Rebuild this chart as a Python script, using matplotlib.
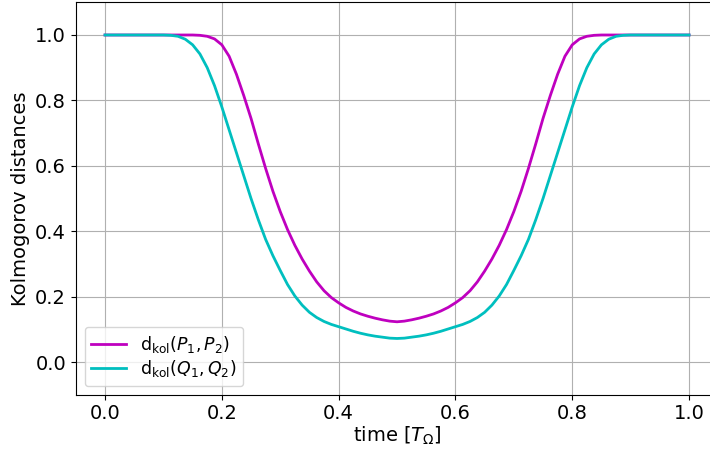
import numpy as np
import matplotlib
matplotlib.use("Agg")
import matplotlib.pyplot as plt

# values (time in units of T_Omega)
t = [0.0, 0.05, 0.1, 0.1125, 0.125, 0.1375, 0.15, 0.1625, 0.175, 0.1875,
     0.2, 0.2125, 0.225, 0.2375, 0.25, 0.2625, 0.275, 0.2875, 0.3, 0.3125,
     0.325, 0.3375, 0.35, 0.3625, 0.375, 0.3875, 0.4, 0.4125, 0.425, 0.4375,
     0.45, 0.4625, 0.475, 0.4875, 0.5,
     0.5125, 0.525, 0.5375, 0.55, 0.5625, 0.575, 0.5875, 0.6, 0.6125, 0.625,
     0.6375, 0.65, 0.6625, 0.675, 0.6875, 0.7, 0.7125, 0.725, 0.7375, 0.75,
     0.7625, 0.775, 0.7875, 0.8, 0.8125, 0.825, 0.8375, 0.85, 0.8625, 0.875,
     0.8875, 0.9, 0.95, 1.0]

d_p = [1.0, 1.0, 1.0, 1.0, 1.0, 1.0, 1.0, 0.999, 0.996, 0.988,
       0.97, 0.935, 0.88, 0.815, 0.745, 0.667, 0.592, 0.522, 0.46, 0.405,
       0.357, 0.315, 0.278, 0.245, 0.218, 0.197, 0.181, 0.167, 0.156, 0.147,
       0.14, 0.134, 0.129, 0.125, 0.123,
       0.125, 0.129, 0.134, 0.14, 0.147, 0.156, 0.167, 0.181, 0.197, 0.218,
       0.245, 0.278, 0.315, 0.357, 0.405, 0.46, 0.522, 0.592, 0.667, 0.745,
       0.815, 0.88, 0.935, 0.97, 0.988, 0.996, 0.999, 1.0, 1.0, 1.0,
       1.0, 1.0, 1.0, 1.0]

d_q = [1.0, 1.0, 1.0, 0.999, 0.996, 0.987, 0.97, 0.942, 0.9, 0.845,
       0.78, 0.71, 0.64, 0.57, 0.5, 0.435, 0.375, 0.325, 0.28, 0.237,
       0.202, 0.174, 0.152, 0.136, 0.124, 0.115, 0.108, 0.101, 0.094, 0.088,
       0.083, 0.079, 0.076, 0.073, 0.072,
       0.073, 0.076, 0.079, 0.083, 0.088, 0.094, 0.101, 0.108, 0.115, 0.124,
       0.136, 0.152, 0.174, 0.202, 0.237, 0.28, 0.325, 0.375, 0.435, 0.5,
       0.57, 0.64, 0.71, 0.78, 0.845, 0.9, 0.942, 0.97, 0.987, 0.996,
       0.999, 1.0, 1.0, 1.0]

labels = [r'$\mathrm{d}_{\mathrm{kol}}(P_1, P_2)$',
          r'$\mathrm{d}_{\mathrm{kol}}(Q_1, Q_2)$']

fig = plt.figure(figsize=(7.1, 4.49), dpi=100)
ax = fig.add_axes([0.1068, 0.1209, 0.9048, 0.874])

ax.plot(t, d_p, color='m', lw=2, label=labels[0])
ax.plot(t, d_q, color='c', lw=2, label=labels[1])

ax.set_xlim(-0.05, 1.05)
ax.set_ylim(-0.1, 1.1)
ax.set_xticks(np.arange(0, 1.01, 0.2))
ax.set_yticks(np.arange(0, 1.01, 0.2))
ax.tick_params(labelsize=14)
ax.grid(True)
ax.set_xlabel(r'time [$T_\Omega$]', fontsize=14, labelpad=1)
ax.set_ylabel('Kolmogorov distances', fontsize=14)
ax.legend(loc='lower left', fontsize=12.5, labelspacing=0.2)

fig.savefig('out.png', dpi=100)
